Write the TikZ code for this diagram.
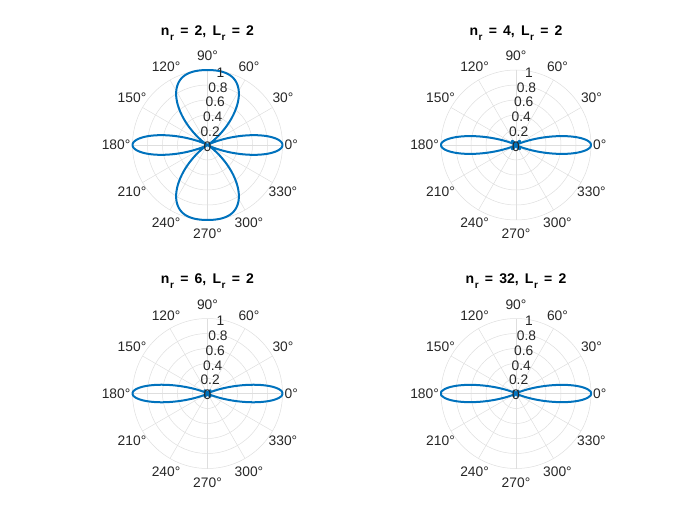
\documentclass[tikz,border=0pt]{standalone}
\usepackage{fontspec}
\setmainfont{Liberation Sans}
\newfontfamily\titlefont[WordSpace=1.6]{Liberation Sans}
\usetikzlibrary{positioning}
\definecolor{matblue}{RGB}{0,114,189}
\definecolor{gridgray}{RGB}{222,222,222}
\definecolor{ticktext}{RGB}{38,38,38}
\newcommand{\subr}{\kern0.6pt\raisebox{-5pt}{\fontsize{10}{10}\selectfont r}}

\begin{document}
\begin{tikzpicture}[x=1pt, y=1pt,
  polargrid/.style={draw=gridgray, line width=0.5pt},
  beam/.style={draw=matblue, line width=2pt, line join=round},
  anglab/.style={text=ticktext, font=\fontsize{13.8}{15}\selectfont, inner sep=0pt},
  rlab/.style={text=ticktext, font=\fontsize{13.8}{15}\selectfont, inner sep=0pt},
  plottitle/.style={font=\titlefont\bfseries\fontsize{14}{16}\selectfont, anchor=base},
  declare function={
    af(\t,\n)=ifthenelse(abs(sin(\t))<0.02, 1-(\n*\n-1)*(2*pi*sin(\t)/\n)^2/6,
      sin(360*sin(\t))/(\n*sin(360*sin(\t)/\n)));
  }]
  \useasboundingbox (0,0) rectangle (700,525);

  \foreach \cx/\cy/\n/\id in {207.5/380/2/a, 516/380/4/b, 207.5/131.5/6/c, 516/131.5/32/d} {
    \begin{scope}[shift={(\cx,\cy)}]
      % grid
      \coordinate (o\id) at (0,0);
      \foreach \r in {15,30,...,75} \draw[polargrid] (o\id) circle (\r);
      \foreach \a in {0,30,...,330} \draw[polargrid] (o\id) -- (\a:75);

      % pattern
      \ifnum\n=2\relax
        \draw[beam] plot[domain=0.25:360.25, samples=721] (\x:{75*cos(180*sin(\x))^2});
      \else
        \draw[beam] plot[domain=0.25:360.25, samples=721] (\x:{75*af(\x,\n)^2});
      \fi

      % labels
      \foreach \a [evaluate=\a as \b using {int(mod(\a+180,360))}] in {0,30,...,330}
        \node[anglab, anchor=\b] (ang\id\a) at (\a:77 and 84) {\a°};
      \foreach \lab [count=\i from 0] in {0,0.2,0.4,0.6,0.8,1}
        \node[rlab, yshift=-1.5pt] (rad\id\i) at (80:{15*\i}) {\lab};
      \node[plottitle] (title\id) at (0,109.5) {n\subr{} = \n, L\subr{} = 2};
    \end{scope}
  }
\end{tikzpicture}
\end{document}
